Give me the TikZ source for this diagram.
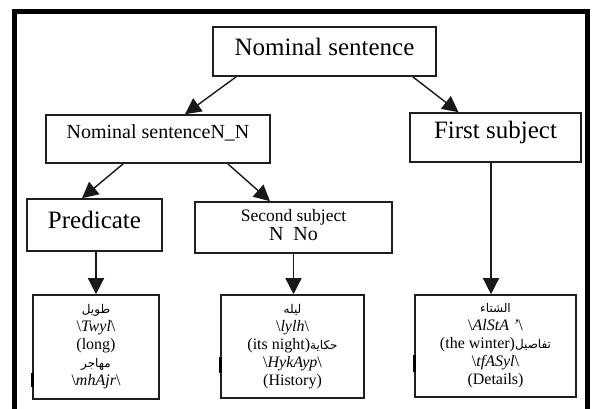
\documentclass[tikz,border=0pt]{standalone}
\usepackage{fontspec}
\setmainfont{Liberation Serif}
\newfontfamily\arabicfont[Script=Arabic]{DejaVu Sans}
\TeXXeTstate=1
\usetikzlibrary{arrows.meta}
% Arabic word, set right to left
\newcommand{\arword}[1]{{\arabicfont\fontsize{12}{12}\selectfont\beginR #1\endR}}
% transliteration between backslashes
\newcommand{\translit}[1]{\textbackslash\textit{#1}\textbackslash}
% lift a one-line label without changing its box
\newcommand{\lift}[2]{\raisebox{#1}[\height][\depth]{#2}}

\begin{document}
\begin{tikzpicture}[x=1pt,y=-1pt,
  box/.style={draw=black!88, line width=1.6pt, fill=white, inner sep=0pt, align=center},
  big/.style={font=\fontsize{25}{28}\selectfont},
  word/.style={font=\fontsize{16}{18}\selectfont},
  link/.style={draw=black!90, line width=1.4pt, -{Triangle[width=16pt,length=16pt]}},
  frame/.style={line width=5pt, black},
  tick/.style={line width=3pt, black}]
\useasboundingbox (0,0) rectangle (593,408);
\clip (0,0) rectangle (593,408);

% outer frame, open at the bottom
\draw[frame] (14.5,430) -- (14.5,11.5) -- (587,11.5) -- (587,430);

% upper levels
\node[box, big, minimum width=223pt, minimum height=49pt] (top) at (324.5,51.5)
  {\lift{5pt}{Nominal sentence}};
\node[box, font=\fontsize{20}{22}\selectfont, minimum width=224pt, minimum height=48pt] (nn) at (158,139)
  {\lift{6pt}{Nominal sentenceN\_N}};
\node[box, big, minimum width=171pt, minimum height=49pt] (first) at (495.5,137.5)
  {\lift{5pt}{First subject}};
\node[box, big, minimum width=135pt, minimum height=52pt] (pred) at (94.5,225)
  {\lift{5.5pt}{Predicate}};
\node[box, font=\fontsize{17.5}{18}\selectfont, minimum width=197pt, minimum height=51pt] (second) at (293.5,227.5)
  {\begin{tabular}{@{}c@{}}Second subject\\{\fontsize{20}{20}\selectfont N\hspace{0.5em}No}\end{tabular}};

% word boxes
\node[box, word, minimum width=126pt, minimum height=104pt] (w1) at (96,347)
  {\arword{طويل}\\\translit{Twyl}\\(long)\\\arword{مهاجر}\\\translit{mhAjr}};
\node[box, word, minimum width=143pt, minimum height=103pt] (w2) at (292.5,346.5)
  {\arword{ليله}\\\translit{lylh}\\(its night)\arword{حكاية}\\\translit{HykAyp}\\(History)};
\node[box, word, minimum width=161pt, minimum height=102pt] (w3) at (495.5,346)
  {\arword{الشتاء}\\\translit{AlStA '}\\(the winter)\arword{تفاصيل}\\\translit{tfASyl}\\(Details)};

% short heavy strokes on the left sides of the word boxes
\draw[tick] ([yshift=-26pt]w1.west) -- ([yshift=-40pt]w1.west);
\draw[tick] ([yshift=-10pt]w2.west) -- ([yshift=-26pt]w2.west);
\draw[tick] ([yshift=-9pt]w3.west) -- ([yshift=-26pt]w3.west);

% connectors
\draw[link] ([xshift=24pt]top.south west) -- ([xshift=27pt]nn.north);
\draw[link] ([xshift=-24pt]top.south east) -- ([xshift=-37pt]first.north);
\draw[link] ([xshift=78pt]nn.south west) -- ([xshift=-12.5pt]pred.north);
\draw[link] ([xshift=-43pt]nn.south east) -- ([xshift=-23.5pt]second.north);
\draw[link] ([xshift=1.5pt]pred.south) -- ([xshift=1.5pt]pred.south |- w1.north);
\draw[link] (second.south) -- (second.south |- w2.north);
\draw[link] ([xshift=-4.5pt]first.south) -- ([xshift=-4.5pt]first.south |- w3.north);
\end{tikzpicture}
\end{document}
